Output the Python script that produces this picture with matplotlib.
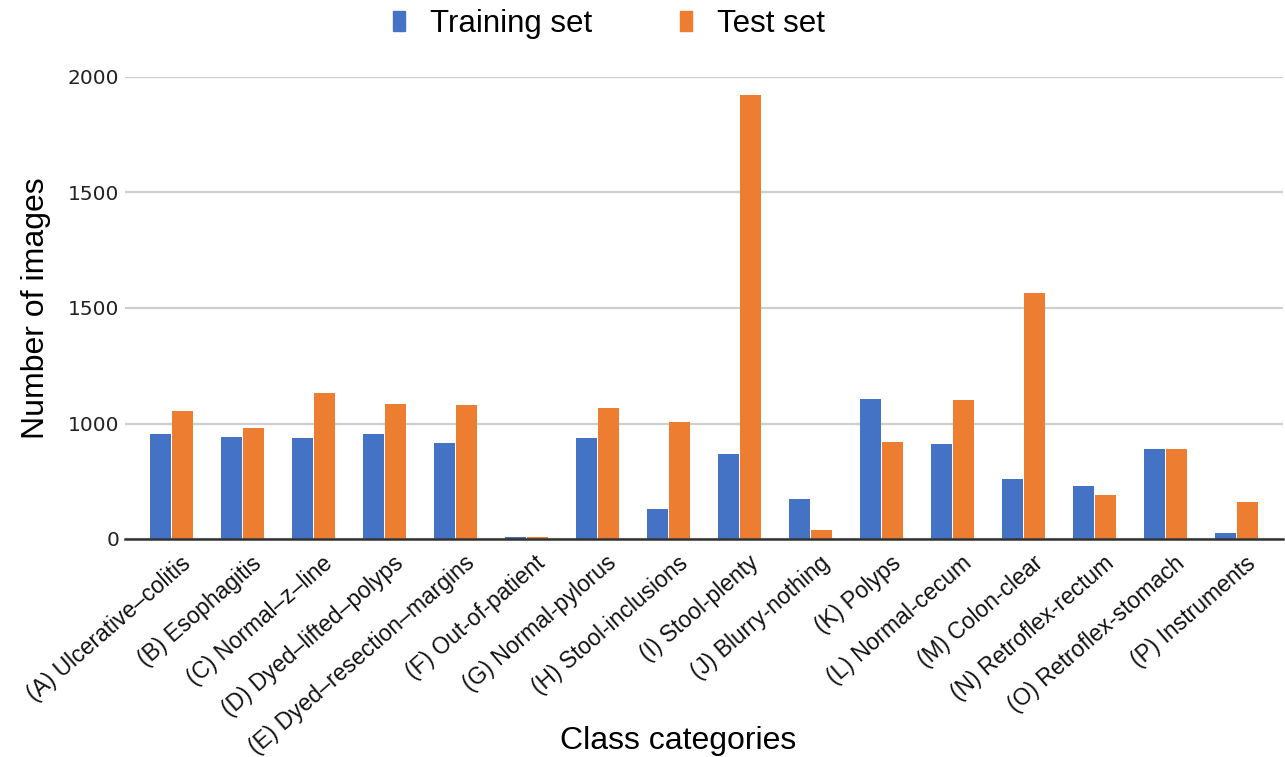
import matplotlib
matplotlib.use("Agg")
import matplotlib.pyplot as plt
from matplotlib.patches import Patch
import numpy as np

categories = [
    "(A) Ulcerative\u2013colitis", "(B) Esophagitis", "(C) Normal\u2013z\u2013line",
    "(D) Dyed\u2013lifted\u2013polyps", "(E) Dyed\u2013resection\u2013margins",
    "(F) Out-of-patient", "(G) Normal-pylorus", "(H) Stool-inclusions",
    "(I) Stool-plenty", "(J) Blurry-nothing", "(K) Polyps", "(L) Normal-cecum",
    "(M) Colon-clear", "(N) Retroflex-rectum", "(O) Retroflex-stomach",
    "(P) Instruments",
]
training = [455, 443, 437, 455, 414, 8, 437, 129, 368, 175, 607, 413, 259, 231, 391, 28]
test = [552, 481, 632, 586, 580, 8, 568, 506, 1921, 37, 420, 602, 1065, 191, 391, 162]
ytick_values = [0, 500, 1000, 1500, 2000]
ytick_labels = ["0", "1000", "1500", "1500", "2000"]

BLUE = "#4472C4"
ORANGE = "#ED7D31"

plt.rcParams["font.family"] = ["Liberation Sans", "DejaVu Sans"]

fig = plt.figure(figsize=(12.85, 7.57), dpi=100)
ax = fig.add_axes([125 / 1285, (757 - 539) / 757, (1283 - 125) / 1285, (539 - 77) / 757])

x = np.arange(len(categories))
w = 0.295
ax.bar(x - 0.153, training, width=w, color=BLUE, zorder=3, label="Training set")
ax.bar(x + 0.153, test, width=w, color=ORANGE, zorder=3, label="Test set")

ax.set_xlim(-0.65, len(categories) - 1 + 0.65)
ax.set_ylim(0, 2000)
ax.set_yticks(ytick_values)
ax.set_yticklabels(ytick_labels, fontfamily="DejaVu Sans", fontsize=14.5, color="#222222")
ax.grid(axis="y", color="#cfcfcf", linewidth=1.6, zorder=0)
ax.tick_params(axis="y", length=0, pad=4)
ax.tick_params(axis="x", length=0, pad=9)

for s in ["top", "right", "left"]:
    ax.spines[s].set_visible(False)
ax.spines["bottom"].set_color("#333333")
ax.spines["bottom"].set_linewidth(1.8)
ax.spines["bottom"].set_zorder(4)

ax.set_xticks(x + 0.12)
ax.set_xticklabels(categories, rotation=41, ha="right", va="top",
                   rotation_mode="anchor", fontsize=16.5, color="#111111")

ax.set_ylabel("Number of images", fontsize=23, labelpad=12)
ax.set_xlabel("Class categories", fontsize=23)
ax.xaxis.set_label_coords(0.478, -0.405)

handles = [Patch(facecolor=BLUE, edgecolor=BLUE), Patch(facecolor=ORANGE, edgecolor=ORANGE)]
fig.legend(handles, ["Training set", "Test set"], loc="center", bbox_to_anchor=(609 / 1285, 1 - 24 / 757),
           ncol=2, frameon=False, fontsize=22.5, handlelength=0.38, handleheight=0.65,
           handletextpad=0.8, columnspacing=2.8)

fig.savefig("out.png", dpi=100)
